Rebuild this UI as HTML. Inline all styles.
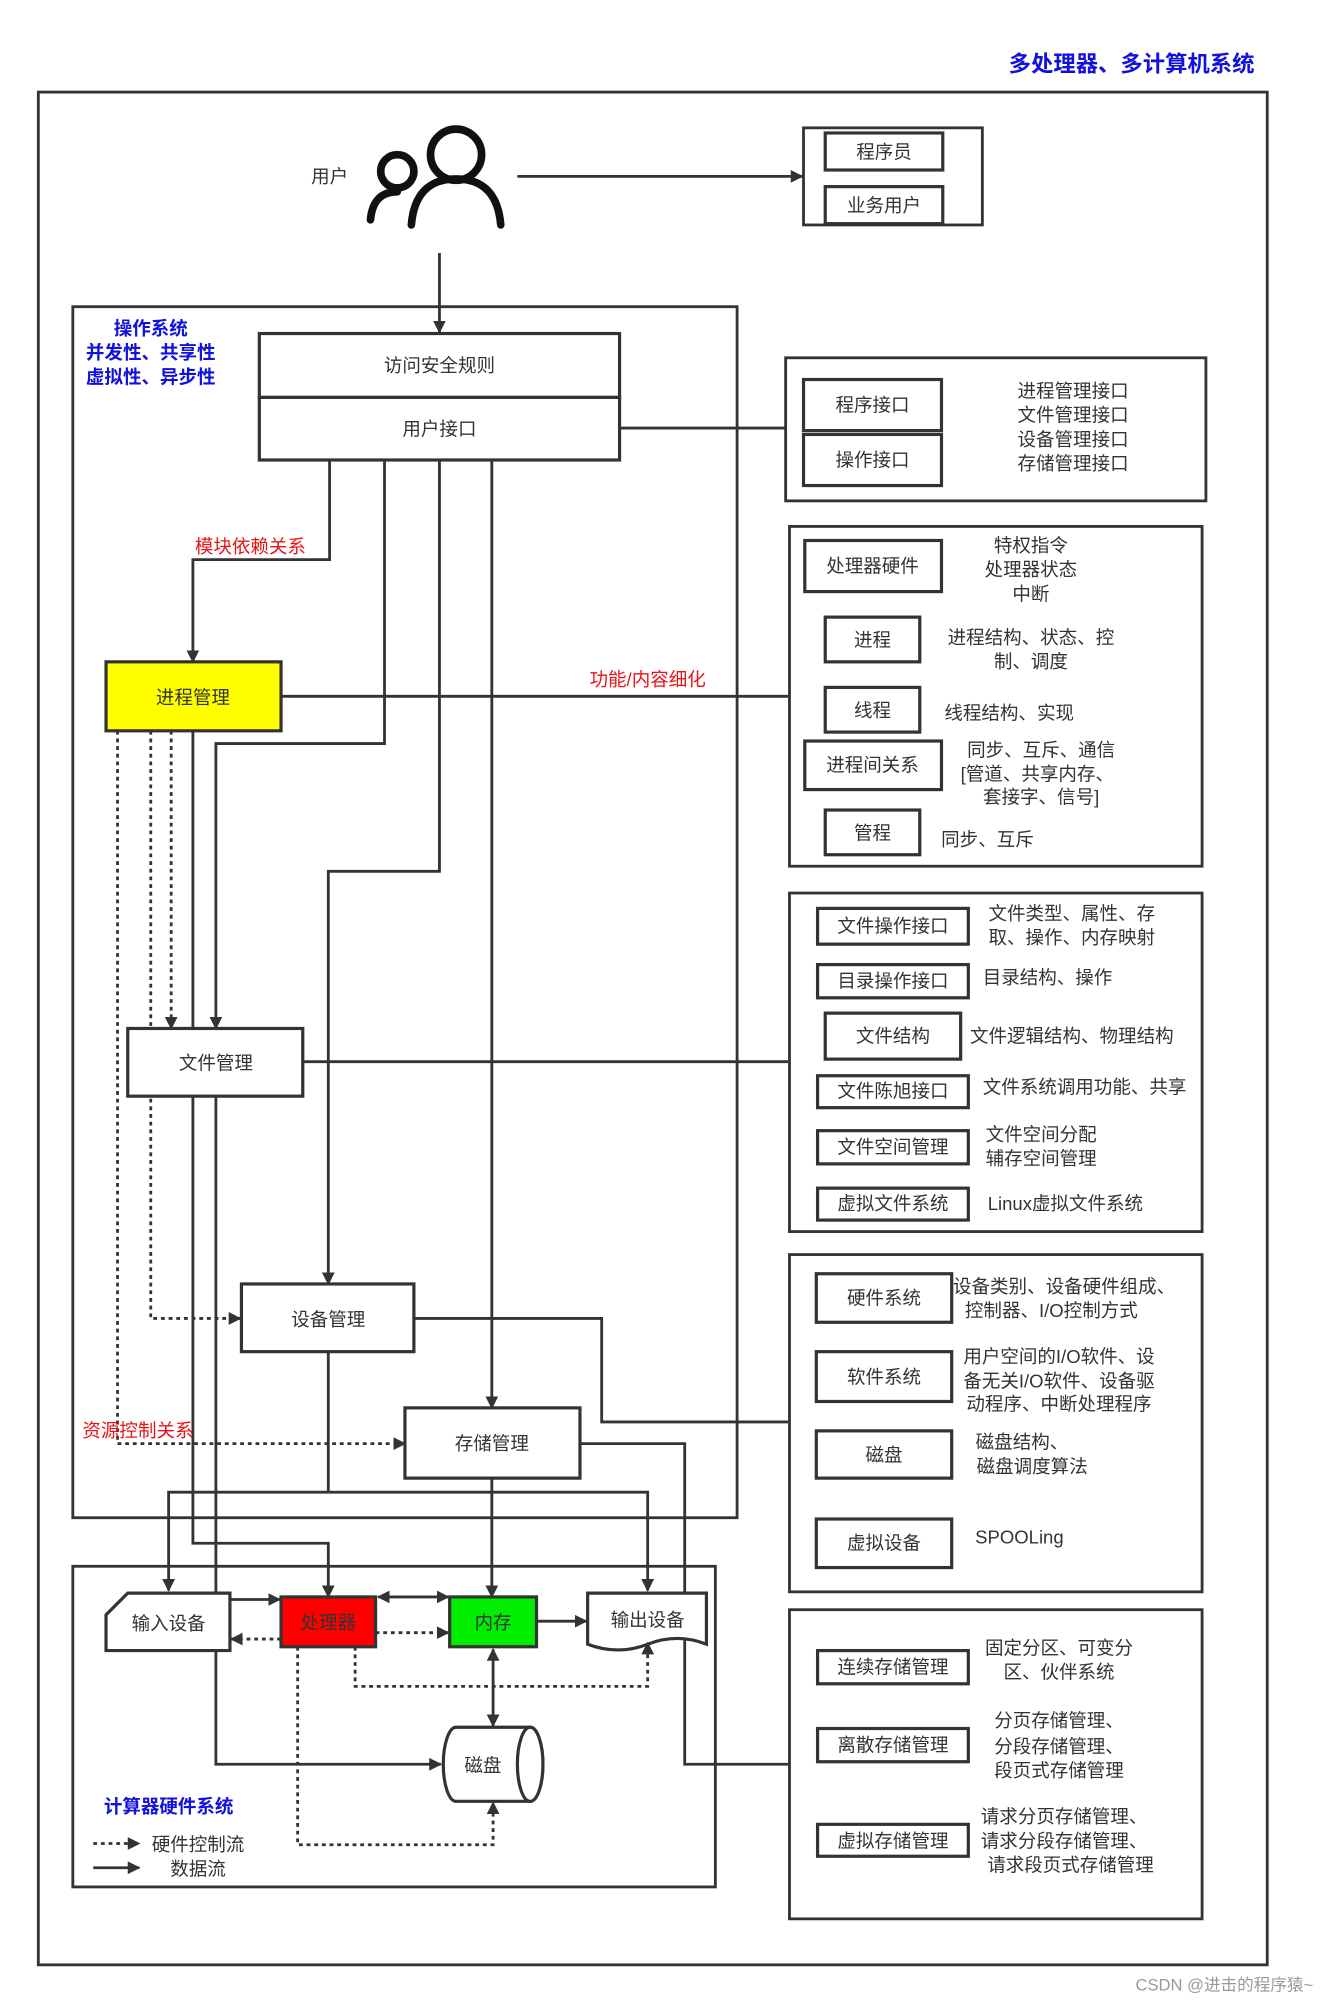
<!DOCTYPE html>
<html><head><meta charset="utf-8">
<style>
html,body{margin:0;padding:0;background:#fff;}
svg{display:block;}
text{font-family:"Liberation Sans","Noto Sans CJK SC",sans-serif;font-size:14.5px;fill:#333;}
.b{fill:#fff;stroke:#333;stroke-width:2.5;}
.l{fill:none;stroke:#333;stroke-width:2.2;}
.d{fill:none;stroke:#333;stroke-width:2.2;stroke-dasharray:3,3;}
.r{fill:#e8141c;}
.bl{fill:#1111dd;font-weight:bold;}
</style></head><body>
<svg width="1326" height="2002" viewBox="0 0 1038 1567" xmlns="http://www.w3.org/2000/svg">
<defs><marker id="a" markerWidth="10" markerHeight="10" refX="9" refY="5" orient="auto" markerUnits="userSpaceOnUse"><path d="M0,0L10,5L0,10z" fill="#333"/></marker>
<marker id="s" markerWidth="10" markerHeight="10" refX="1" refY="5" orient="auto" markerUnits="userSpaceOnUse"><path d="M10,0L0,5L10,10z" fill="#333"/></marker></defs>
<rect width="1038" height="1567" fill="#fff"/>
<text x="982" y="56" text-anchor="end" class="bl" style="font-size:17.5px">多处理器、多计算机系统</text>
<rect x="30" y="72" width="962" height="1466" class="l"/>
<!-- user -->
<text x="258" y="143" text-anchor="middle">用户</text>
<g fill="none" stroke="#111" stroke-width="6" stroke-linecap="round">
<circle cx="357" cy="121" r="20"/><path d="M322,176 Q325,140 357,140 Q389,140 392,176"/>
<circle cx="311" cy="134" r="13"/><path d="M290,172 Q292,150 311,150"/></g>
<line x1="405" y1="138" x2="628" y2="138" class="l" marker-end="url(#a)"/>
<rect x="629" y="100" width="140" height="76" class="l"/>
<rect x="646" y="104" width="92" height="29" class="b"/><text x="692" y="124" text-anchor="middle">程序员</text>
<rect x="646" y="146" width="92" height="29" class="b"/><text x="692" y="166" text-anchor="middle">业务用户</text>
<line x1="344" y1="198" x2="344" y2="260" class="l" marker-end="url(#a)"/>
<!-- OS -->
<rect x="57" y="240" width="520" height="948" class="l"/>
<text x="118" y="262" text-anchor="middle" class="bl">操作系统</text>
<text x="118" y="281" text-anchor="middle" class="bl">并发性、共享性</text>
<text x="118" y="300" text-anchor="middle" class="bl">虚拟性、异步性</text>
<rect x="203" y="261" width="282" height="50" class="b"/><text x="344" y="291" text-anchor="middle">访问安全规则</text>
<rect x="203" y="311" width="282" height="49" class="b"/><text x="344" y="341" text-anchor="middle">用户接口</text>
<line x1="485" y1="335" x2="615" y2="335" class="l"/>
<rect x="615" y="280" width="329" height="112" class="l"/>
<rect x="629" y="297" width="108" height="40" class="b"/><text x="683" y="322" text-anchor="middle">程序接口</text>
<rect x="629" y="340" width="108" height="40" class="b"/><text x="683" y="365" text-anchor="middle">操作接口</text>
<text x="840" y="311" text-anchor="middle">进程管理接口</text><text x="840" y="330" text-anchor="middle">文件管理接口</text>
<text x="840" y="349" text-anchor="middle">设备管理接口</text><text x="840" y="368" text-anchor="middle">存储管理接口</text>
<!-- UI lines -->
<polyline points="258,360 258,438 151,438 151,518" class="l" marker-end="url(#a)"/>
<text x="196" y="433" text-anchor="middle" class="r">模块依赖关系</text>
<polyline points="301,360 301,582 169,582 169,805" class="l" marker-end="url(#a)"/>
<polyline points="344,360 344,682 257,682 257,1005" class="l" marker-end="url(#a)"/>
<line x1="385" y1="360" x2="385" y2="1102" class="l" marker-end="url(#a)"/>
<!-- process -->
<rect x="83" y="518" width="137" height="54" fill="#ffff00" stroke="#333" stroke-width="2.5"/><text x="151" y="551" text-anchor="middle">进程管理</text>
<line x1="220" y1="545" x2="617" y2="545" class="l"/>
<text x="507" y="537" text-anchor="middle" class="r">功能/内容细化</text>
<rect x="618" y="412" width="323" height="266" class="l"/>
<rect x="630" y="423" width="107" height="40" class="b"/><text x="683" y="448" text-anchor="middle">处理器硬件</text>
<text x="807" y="432" text-anchor="middle">特权指令</text><text x="807" y="451" text-anchor="middle">处理器状态</text><text x="807" y="470" text-anchor="middle">中断</text>
<rect x="646" y="483" width="74" height="35" class="b"/><text x="683" y="506" text-anchor="middle">进程</text>
<text x="807" y="504" text-anchor="middle">进程结构、状态、控</text><text x="807" y="523" text-anchor="middle">制、调度</text>
<rect x="646" y="538" width="74" height="35" class="b"/><text x="683" y="561" text-anchor="middle">线程</text>
<text x="790" y="563" text-anchor="middle">线程结构、实现</text>
<rect x="630" y="580" width="107" height="38" class="b"/><text x="683" y="604" text-anchor="middle">进程间关系</text>
<text x="815" y="592" text-anchor="middle">同步、互斥、通信</text><text x="812" y="611" text-anchor="middle">[管道、共享内存、</text><text x="815" y="629" text-anchor="middle">套接字、信号]</text>
<rect x="646" y="634" width="74" height="35" class="b"/><text x="683" y="657" text-anchor="middle">管程</text>
<text x="773" y="662" text-anchor="middle">同步、互斥</text>
<!-- process lines -->
<polyline points="92,572 92,1130 317,1130" class="d" marker-end="url(#a)"/>
<polyline points="118,572 118,1032 188,1032" class="d" marker-end="url(#a)"/>
<line x1="134" y1="572" x2="134" y2="805" class="d" marker-end="url(#a)"/>
<polyline points="151,572 151,1208 257,1208 257,1250" class="l" marker-end="url(#a)"/>
<!-- file -->
<rect x="100" y="805" width="137" height="53" class="b"/><text x="169" y="837" text-anchor="middle">文件管理</text>
<line x1="237" y1="831" x2="617" y2="831" class="l"/>
<polyline points="169,858 169,1381 345,1381" class="l" marker-end="url(#a)"/>
<rect x="618" y="699" width="323" height="265" class="l"/>
<rect x="640" y="711" width="118" height="28" class="b"/><text x="699" y="730" text-anchor="middle">文件操作接口</text>
<text x="839" y="720" text-anchor="middle">文件类型、属性、存</text><text x="839" y="739" text-anchor="middle">取、操作、内存映射</text>
<rect x="640" y="755" width="118" height="26" class="b"/><text x="699" y="773" text-anchor="middle">目录操作接口</text>
<text x="820" y="770" text-anchor="middle">目录结构、操作</text>
<rect x="646" y="793" width="106" height="36" class="b"/><text x="699" y="816" text-anchor="middle">文件结构</text>
<text x="839" y="816" text-anchor="middle">文件逻辑结构、物理结构</text>
<rect x="640" y="842" width="118" height="25" class="b"/><text x="699" y="859" text-anchor="middle">文件陈旭接口</text>
<text x="849" y="856" text-anchor="middle">文件系统调用功能、共享</text>
<rect x="640" y="885" width="118" height="26" class="b"/><text x="699" y="903" text-anchor="middle">文件空间管理</text>
<text x="815" y="893" text-anchor="middle">文件空间分配</text><text x="815" y="912" text-anchor="middle">辅存空间管理</text>
<rect x="640" y="930" width="118" height="25" class="b"/><text x="699" y="947" text-anchor="middle">虚拟文件系统</text>
<text x="834" y="947" text-anchor="middle">Linux虚拟文件系统</text>
<!-- device -->
<rect x="189" y="1005" width="135" height="53" class="b"/><text x="257" y="1038" text-anchor="middle">设备管理</text>
<polyline points="324,1032 471,1032 471,1113 617,1113" class="l"/>
<rect x="618" y="982" width="323" height="264" class="l"/>
<rect x="639" y="997" width="106" height="38" class="b"/><text x="692" y="1021" text-anchor="middle">硬件系统</text>
<text x="833" y="1012" text-anchor="middle">设备类别、设备硬件组成、</text><text x="823" y="1031" text-anchor="middle">控制器、I/O控制方式</text>
<rect x="639" y="1058" width="106" height="39" class="b"/><text x="692" y="1083" text-anchor="middle">软件系统</text>
<text x="829" y="1067" text-anchor="middle">用户空间的I/O软件、设</text><text x="829" y="1086" text-anchor="middle">备无关I/O软件、设备驱</text><text x="829" y="1104" text-anchor="middle">动程序、中断处理程序</text>
<rect x="639" y="1120" width="106" height="37" class="b"/><text x="692" y="1144" text-anchor="middle">磁盘</text>
<text x="800" y="1134" text-anchor="middle">磁盘结构、</text><text x="808" y="1153" text-anchor="middle">磁盘调度算法</text>
<rect x="639" y="1189" width="106" height="38" class="b"/><text x="692" y="1213" text-anchor="middle">虚拟设备</text>
<text x="798" y="1208" text-anchor="middle">SPOOLing</text>
<!-- storage -->
<rect x="317" y="1102" width="137" height="55" class="b"/><text x="385" y="1135" text-anchor="middle">存储管理</text>
<polyline points="454,1130 536,1130 536,1381 617,1381" class="l"/>
<rect x="618" y="1260" width="323" height="242" class="l"/>
<rect x="640" y="1292" width="118" height="26" class="b"/><text x="699" y="1310" text-anchor="middle">连续存储管理</text>
<text x="829" y="1295" text-anchor="middle">固定分区、可变分</text><text x="829" y="1314" text-anchor="middle">区、伙伴系统</text>
<rect x="640" y="1353" width="118" height="26" class="b"/><text x="699" y="1371" text-anchor="middle">离散存储管理</text>
<text x="829" y="1352" text-anchor="middle">分页存储管理、</text><text x="829" y="1372" text-anchor="middle">分段存储管理、</text><text x="829" y="1391" text-anchor="middle">段页式存储管理</text>
<rect x="640" y="1428" width="118" height="25" class="b"/><text x="699" y="1446" text-anchor="middle">虚拟存储管理</text>
<text x="833" y="1427" text-anchor="middle">请求分页存储管理、</text><text x="833" y="1446" text-anchor="middle">请求分段存储管理、</text><text x="838" y="1465" text-anchor="middle">请求段页式存储管理</text>
<!-- device/storage lines to HW -->
<polyline points="257,1058 257,1168" class="l"/>
<polyline points="257,1168 132,1168 132,1245" class="l" marker-end="url(#a)"/>
<polyline points="257,1168 507,1168 507,1245" class="l" marker-end="url(#a)"/>
<line x1="385" y1="1157" x2="385" y2="1250" class="l" marker-end="url(#a)"/>
<text x="108" y="1125" text-anchor="middle" class="r">资源控制关系</text>
<!-- HW -->
<rect x="57" y="1226" width="503" height="251" class="l"/>
<path d="M100,1247 L180,1247 L180,1292 L83,1292 L83,1264 Z" class="b"/><text x="132" y="1276" text-anchor="middle">输入设备</text>
<rect x="220" y="1250" width="74" height="39" fill="#ff0000" stroke="#333" stroke-width="2.5"/><text x="257" y="1275" text-anchor="middle">处理器</text>
<rect x="352" y="1250" width="68" height="39" fill="#00ee00" stroke="#333" stroke-width="2.5"/><text x="386" y="1275" text-anchor="middle">内存</text>
<path d="M460,1247 L553,1247 L553,1287 Q530,1278 507,1287 Q484,1296 460,1287 Z" class="b"/><text x="507" y="1273" text-anchor="middle">输出设备</text>
<line x1="180" y1="1252" x2="219" y2="1252" class="l" marker-end="url(#a)"/>
<line x1="220" y1="1283" x2="181" y2="1283" class="d" marker-end="url(#a)"/>
<line x1="296" y1="1250" x2="351" y2="1250" class="l" marker-end="url(#a)" marker-start="url(#s)"/>
<line x1="294" y1="1278" x2="351" y2="1278" class="d" marker-end="url(#a)"/>
<line x1="420" y1="1269" x2="459" y2="1269" class="l" marker-end="url(#a)"/>
<line x1="386" y1="1291" x2="386" y2="1351" class="l" marker-end="url(#a)" marker-start="url(#s)"/>
<polyline points="278,1289 278,1320 507,1320 507,1286" class="d" marker-end="url(#a)"/>
<polyline points="233,1289 233,1444 386,1444 386,1411" class="d" marker-end="url(#a)"/>
<path d="M357,1352 L415,1352 A10,29 0 0 1 415,1410 L357,1410 A10,29 0 0 1 357,1352 Z" class="b"/>
<ellipse cx="415" cy="1381" rx="10" ry="29" class="b"/>
<text x="378" y="1387" text-anchor="middle">磁盘</text>
<text x="132" y="1419" text-anchor="middle" class="bl">计算器硬件系统</text>
<line x1="73" y1="1443" x2="109" y2="1443" class="d" marker-end="url(#a)"/><text x="155" y="1449" text-anchor="middle">硬件控制流</text>
<line x1="73" y1="1462" x2="109" y2="1462" class="l" marker-end="url(#a)"/><text x="155" y="1468" text-anchor="middle">数据流</text>
<text x="1028" y="1558" text-anchor="end" style="fill:#999;font-size:13px">CSDN @进击的程序猿~</text>
</svg>
</body></html>
